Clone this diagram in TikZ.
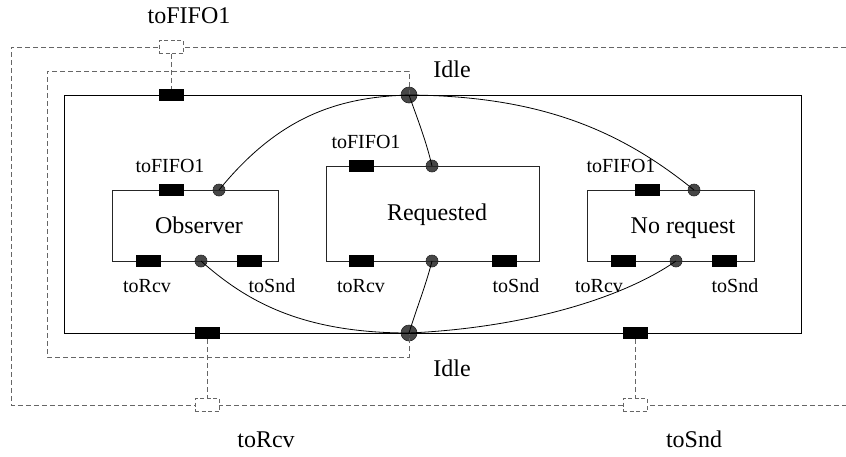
\documentclass[tikz,border=0pt]{standalone}
\usepackage{fontspec}
\setmainfont{Liberation Serif}
\begin{document}
\begin{tikzpicture}[x=1pt,y=-1pt,
  bigdot/.style={circle,fill=black!72,draw=black!85,line width=0.6pt,minimum size=16pt,inner sep=0pt},
  smalldot/.style={circle,fill=black!72,draw=black!85,line width=0.6pt,minimum size=12pt,inner sep=0pt},
  port/.style={rectangle,fill=black,minimum width=25pt,minimum height=12pt,inner sep=0pt},
  ghost/.style={rectangle,draw=black!60,dash pattern=on 4pt off 2.5pt,minimum width=24pt,minimum height=13pt,inner sep=0pt,line width=0.8pt},
  box/.style={rectangle,draw=black!85,line width=0.8pt,inner sep=0pt},
  wire/.style={line width=0.8pt},
  dline/.style={draw=black!60,line width=0.8pt,dash pattern=on 5pt off 3pt},
  big/.style={font=\fontsize{24}{28}\selectfont,anchor=base,inner sep=0pt},
  small/.style={font=\fontsize{20}{24}\selectfont,anchor=base,inner sep=0pt}]

\useasboundingbox (0,0) rectangle (846,456);

% circles (drawn first, lines over them)
\node[bigdot] (idleT) at (409,95) {};
\node[bigdot] (idleB) at (409,333) {};
\node[smalldot] (obsT) at (219,190) {};
\node[smalldot] (obsB) at (201,261) {};
\node[smalldot] (reqT) at (432,166) {};
\node[smalldot] (reqB) at (432,261) {};
\node[smalldot] (nrT) at (694,190) {};
\node[smalldot] (nrB) at (676,261) {};

% outer dashed frame
\coordinate (oTR) at (846,47);
\coordinate (oTL) at (11,47);
\coordinate (oBL) at (11,405);
\coordinate (oBR) at (846,405);
\draw[dline] (oTR) -- (oTL) -- (oBL) -- (oBR);

% inner dashed frame
\coordinate (iTR) at (409,71);
\coordinate (iTL) at (47,71);
\coordinate (iBL) at (47,357);
\coordinate (iBR) at (409,357);
\draw[dline] (idleT.center) -- (iTR) -- (iTL) -- (iBL) -- (iBR) -- (idleB.center);

% main rectangle and boxes
\node[box,draw=black,minimum width=737pt,minimum height=238pt] (main) at (432.5,214) {};
\node[box,minimum width=166pt,minimum height=71pt] (obs) at (195,225.5) {};
\node[box,minimum width=213pt,minimum height=95pt] (req) at (432.5,213.5) {};
\node[box,minimum width=167pt,minimum height=71pt] (nr) at (670.5,225.5) {};

% ghost ports
\node[ghost,fill=white] (gF) at (171,47) {};
\node[ghost,fill=white] (gR) at (207,405) {};
\node[ghost,fill=white] (gS) at (635,405) {};

% ports on main
\node[port] (pF) at (171,95) {};
\node[port] (pR) at (207,333) {};
\node[port] (pS) at (635,333) {};

\draw[dline] (gF.south) -- (pF.north);
\draw[dline] (pR.south) -- (gR.north);
\draw[dline] (pS.south) -- (gS.north);

% ports on boxes
\node[port] (oF) at (171,190) {};
\node[port] (oR) at (148,261) {};
\node[port] (oS) at (249,261) {};
\node[port] (rF) at (361,166) {};
\node[port] (rR) at (361,261) {};
\node[port] (rS) at (504,261) {};
\node[port] (nF) at (647,190) {};
\node[port] (nR) at (623,261) {};
\node[port] (nS) at (724,261) {};

% connectors
\draw[wire] (idleT.center) .. controls (340,97) and (280,115) .. (obsT.center);
\draw[wire] (idleT.center) .. controls (416,115) and (426,140) .. (reqT.center);
\draw[wire] (idleT.center) .. controls (540,96) and (620,130) .. (nrT.center);
\draw[wire] (obsB.center) .. controls (245,300) and (300,333) .. (idleB.center);
\draw[wire] (reqB.center) .. controls (426,285) and (416,310) .. (idleB.center);
\draw[wire] (idleB.center) .. controls (520,328) and (620,300) .. (nrB.center);

% labels
\node[big] (lF) at (189,23) {toFIFO1};
\node[big] (lIdleT) at (452,77) {Idle};
\node[big] (lIdleB) at (452,376) {Idle};
\node[big] (lR) at (266,447) {toRcv};
\node[big] (lS) at (694,447) {toSnd};

\node[big] (tObs) at (199,233) {Observer};
\node[small] (oFl) at (170,172) {toFIFO1};
\node[small] (oRl) at (147,292) {toRcv};
\node[small] (oSl) at (272,292) {toSnd};

\node[big] (tReq) at (437,220) {Requested};
\node[small] (rFl) at (366,148) {toFIFO1};
\node[small] (rRl) at (361,292) {toRcv};
\node[small] (rSl) at (516,292) {toSnd};

\node[big] (tNr) at (683,233) {No request};
\node[small] (nFl) at (621,172) {toFIFO1};
\node[small] (nRl) at (599,292) {toRcv};
\node[small] (nSl) at (735,292) {toSnd};
\end{tikzpicture}
\end{document}
